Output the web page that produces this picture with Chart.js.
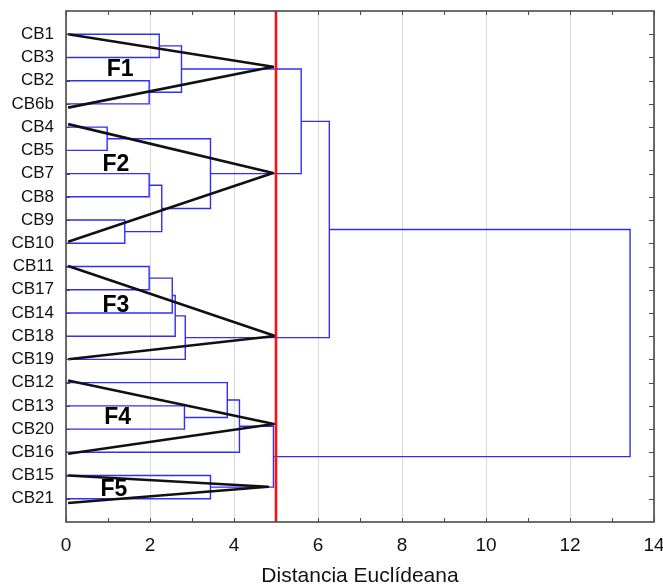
<!DOCTYPE html>
<html>
<head>
<meta charset="utf-8">
<script src="https://cdn.jsdelivr.net/npm/chart.js@4.4.1/dist/chart.umd.min.js"></script>
<style>
  html, body { margin: 0; padding: 0; background: #fff; }
  #wrap { width: 663px; height: 587px; }
</style>
</head>
<body>
<div id="wrap"><canvas id="dendro"></canvas></div>
<script>
// leaves, top to bottom
const leaves = ['CB1', 'CB3', 'CB2', 'CB6b', 'CB4', 'CB5', 'CB7', 'CB8', 'CB9', 'CB10',
  'CB11', 'CB17', 'CB14', 'CB18', 'CB19', 'CB12', 'CB13', 'CB20', 'CB16', 'CB15', 'CB21'];

// merges: node 21 + k joins mergeA[k] and mergeB[k] at mergeDist[k]
const mergeA =    [0,    2,    21,   4,    6,    8,    25,   24,   23,   10,   30,   31,   32,   29,   16,   15,   36,   19,   37,   34];
const mergeB =    [1,    3,    22,   5,    7,    9,    26,   27,   28,   11,   12,   13,   14,   33,   17,   35,   18,   20,   38,   39];
const mergeDist = [2.22, 1.98, 2.75, 0.98, 1.98, 1.40, 2.28, 3.44, 5.60, 1.98, 2.53, 2.60, 2.84, 6.27, 2.82, 3.84, 4.13, 3.44, 4.94, 13.43];

// cut line and the drawn groups
const cutDistance = 5;
const groupNames = ['F1', 'F2', 'F3', 'F4', 'F5'];
const groupUpperY = [1.0, 4.87, 10.98, 15.91, 20.0];
const groupLowerY = [4.16, 9.93, 14.99, 19.06, 21.18];
const groupApexX = [4.93, 4.93, 4.98, 4.95, 4.81];
const groupApexY = [2.4, 6.97, 13.99, 17.78, 20.48];
const groupLabelX = [1.29, 1.19, 1.19, 1.23, 1.14];
const groupLabelY = [2.47, 6.56, 12.66, 17.48, 20.58];

const xTicks = [0, 2, 4, 6, 8, 10, 12, 14];

// node positions
const nodeY = leaves.map((_, i) => i + 1);
const nodeX = leaves.map(() => 0);
const datasets = [];
mergeA.forEach((a, k) => {
  const b = mergeB[k];
  const d = mergeDist[k];
  nodeY.push((nodeY[a] + nodeY[b]) / 2);
  nodeX.push(d);
  datasets.push({
    data: [{x: nodeX[a], y: nodeY[a]}, {x: d, y: nodeY[a]}, {x: d, y: nodeY[b]}, {x: nodeX[b], y: nodeY[b]}],
    borderColor: '#2f2ff8', borderWidth: 1.4, order: 3, borderJoinStyle: 'miter'
  });
});

groupNames.forEach((g, i) => {
  datasets.push({
    data: [{x: 0.05, y: groupUpperY[i]}, {x: groupApexX[i], y: groupApexY[i]}, {x: 0.05, y: groupLowerY[i]}],
    borderColor: '#111', borderWidth: 2.6, order: 2, borderJoinStyle: 'round'
  });
});

datasets.push({
  data: [{x: cutDistance, y: 0}, {x: cutDistance, y: 22}],
  borderColor: '#ff1010', borderWidth: 2.6, order: 1
});

datasets.forEach(ds => {
  ds.showLine = true;
  ds.pointRadius = 0;
  ds.fill = false;
  ds.tension = 0;
});

// frame, inward ticks and group names
const framePlugin = {
  id: 'frame',
  afterDatasetsDraw(chart) {
    const {ctx, chartArea: a, scales: {x, y}} = chart;
    ctx.save();
    ctx.font = 'bold 23px "Liberation Sans", Arial, sans-serif';
    ctx.fillStyle = '#000';
    ctx.textAlign = 'center';
    ctx.textBaseline = 'middle';
    groupNames.forEach((g, i) => {
      ctx.fillText(g, x.getPixelForValue(groupLabelX[i]), y.getPixelForValue(groupLabelY[i]) + 1);
    });

    ctx.strokeStyle = '#4a4a4a';
    ctx.lineWidth = 1;
    ctx.beginPath();
    for (let v = 0; v <= 14; v++) {
      const px = Math.round(x.getPixelForValue(v)) + 0.5;
      ctx.moveTo(px, a.top); ctx.lineTo(px, a.top + 4);
      ctx.moveTo(px, a.bottom); ctx.lineTo(px, a.bottom - 4);
    }
    for (let v = 1; v <= leaves.length; v++) {
      const py = Math.round(y.getPixelForValue(v)) + 0.5;
      ctx.moveTo(a.right, py); ctx.lineTo(a.right - 5, py);
      ctx.moveTo(a.left, py); ctx.lineTo(a.left + 4, py);
    }
    ctx.stroke();

    ctx.lineWidth = 1.6;
    ctx.strokeRect(a.left, a.top, a.right - a.left, a.bottom - a.top);
    ctx.restore();
  }
};

new Chart(document.getElementById('dendro'), {
  type: 'scatter',
  data: { datasets },
  options: {
    responsive: true,
    maintainAspectRatio: false,
    animation: false,
    layout: { padding: { left: 0, top: 11, right: 9, bottom: 0 } },
    plugins: { legend: { display: false }, tooltip: { enabled: false } },
    scales: {
      x: {
        type: 'linear', min: 0, max: 14,
        afterBuildTicks: s => { s.ticks = xTicks.map(v => ({value: v})); },
        afterFit: s => { s.height = 65; s.paddingLeft = 0; s.paddingRight = 0; },
        ticks: {
          padding: 12, color: '#111',
          font: { family: '"Liberation Sans", Arial, sans-serif', size: 19 }
        },
        grid: { color: '#d8d8d8', lineWidth: 1, drawTicks: false },
        border: { display: false },
        title: {
          display: true, text: 'Distancia Euclídeana', color: '#111',
          padding: { top: 0, bottom: 0 },
          font: { family: '"Liberation Sans", Arial, sans-serif', size: 21, lineHeight: 1 }
        }
      },
      y: {
        type: 'linear', min: 0, max: 22, reverse: true,
        afterBuildTicks: s => { s.ticks = leaves.map((_, i) => ({value: i + 1})); },
        afterFit: s => { s.width = 66; s.paddingTop = 0; s.paddingBottom = 0; },
        ticks: {
          autoSkip: false, padding: 12, color: '#111',
          callback: v => leaves[v - 1] || '',
          font: { family: '"Liberation Sans", Arial, sans-serif', size: 17 }
        },
        grid: { display: false, drawTicks: false },
        border: { display: false }
      }
    }
  },
  plugins: [framePlugin]
});
</script>
</body>
</html>
